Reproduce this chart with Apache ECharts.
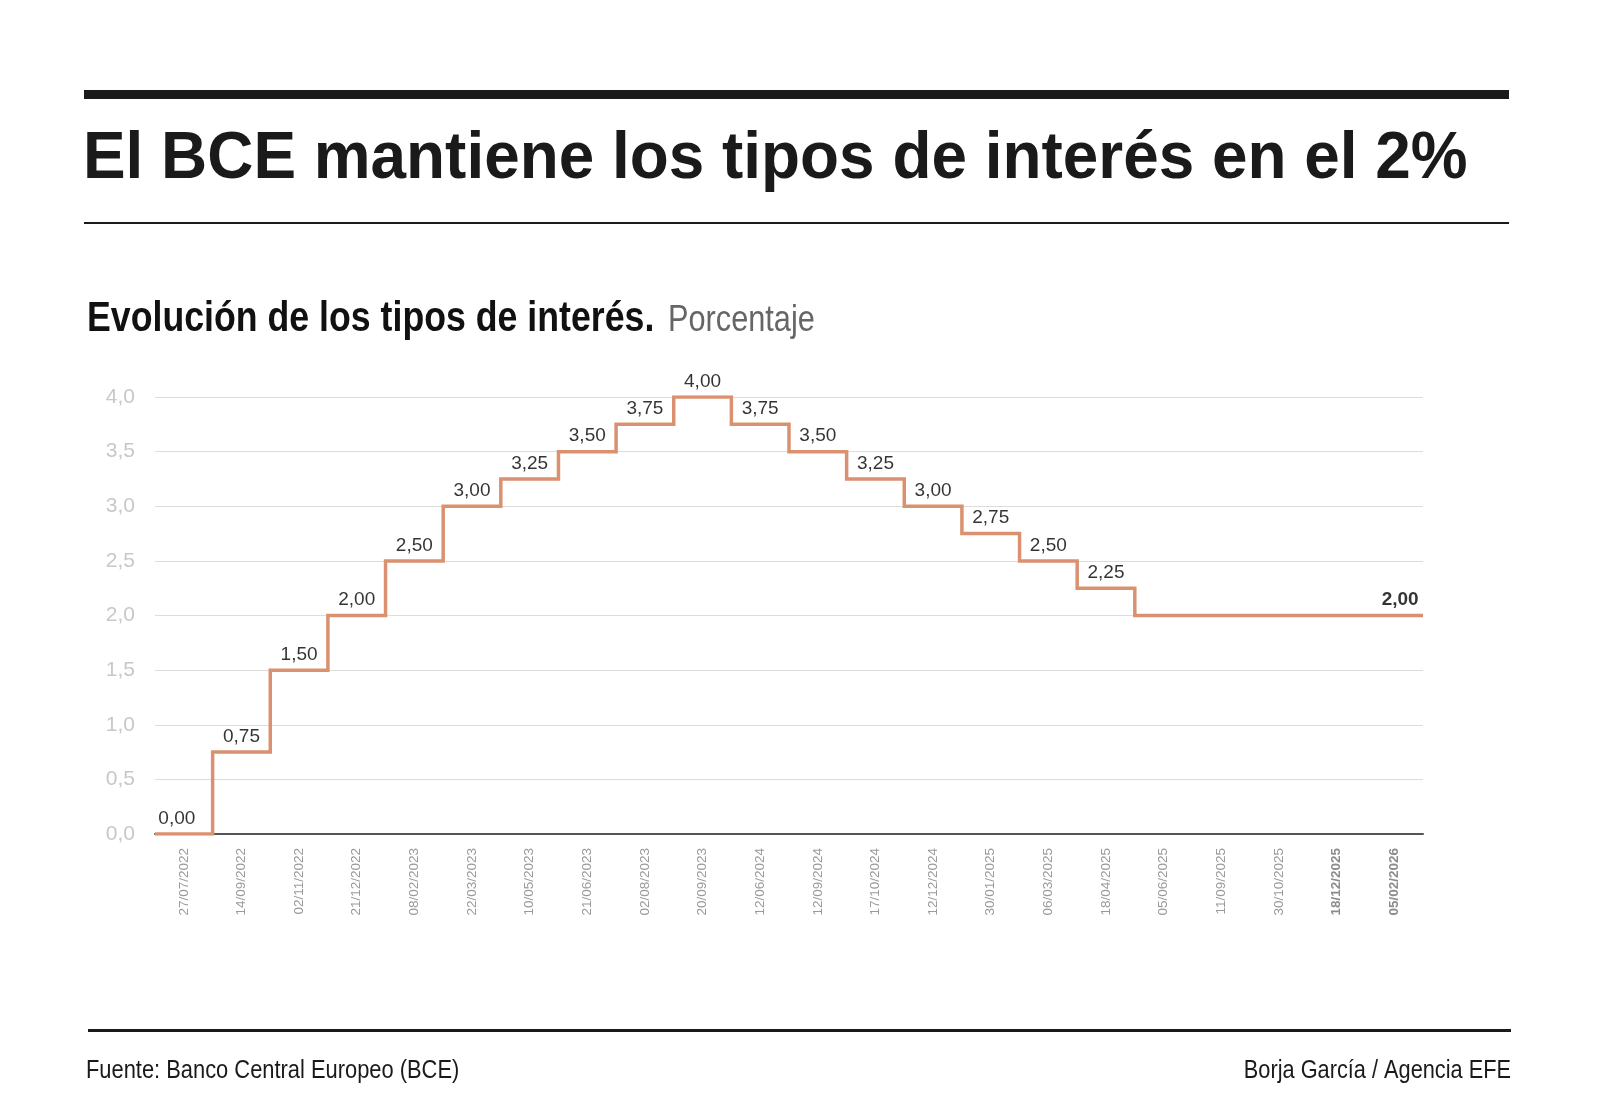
<!DOCTYPE html>
<html>
<head>
<meta charset="utf-8">
<script src="https://cdn.jsdelivr.net/npm/echarts@6/dist/echarts.min.js"></script>
<style>
html,body{margin:0;padding:0;background:#fff;}
#chart{width:1600px;height:1114px;}
</style>
</head>
<body>
<div id="chart"></div>
<script>
const dates = ['27/07/2022','14/09/2022','02/11/2022','21/12/2022','08/02/2023','22/03/2023','10/05/2023','21/06/2023','02/08/2023','20/09/2023','12/06/2024','12/09/2024','17/10/2024','12/12/2024','30/01/2025','06/03/2025','18/04/2025','05/06/2025','11/09/2025','30/10/2025','18/12/2025','05/02/2026'];
const rates = [0, 0.75, 1.5, 2, 2.5, 3, 3.25, 3.5, 3.75, 4, 3.75, 3.5, 3.25, 3, 2.75, 2.5, 2.25, 2, 2, 2, 2, 2];
const labelled = [true,true,true,true,true,true,true,true,true,true,true,true,true,true,true,true,true,false,false,false,false,true];
const yTicks = [0, 0.5, 1, 1.5, 2, 2.5, 3, 3.5, 4];

const SANS = '"Liberation Sans",Arial,Helvetica,sans-serif';
const fmt = (v, d) => v.toFixed(d).replace('.', ',');

// step-line points at band edges (index i = left edge of band i)
const stepData = rates.map((v, i) => [i, v]);
stepData.push([rates.length, rates[rates.length - 1]]);

const labelData = rates.map((v, i) => {
  const last = i === rates.length - 1;
  return {
    value: v,
    label: {
      show: labelled[i],
      fontWeight: last ? 'bold' : 'normal',
      offset: last ? [6, 0] : (i === 0 ? [-7, 0] : [0, 0])
    }
  };
});

const chart = echarts.init(document.getElementById('chart'), null, {renderer: 'canvas'});
chart.setOption({
  backgroundColor: '#ffffff',
  animation: false,
  grid: {left: 155, right: 177, top: 397, bottom: 280, containLabel: false},
  xAxis: [{
    type: 'category',
    data: dates,
    boundaryGap: true,
    axisLine: {show: true, lineStyle: {color: '#555555', width: 2}},
    axisTick: {show: false},
    splitLine: {show: false},
    axisLabel: {
      rotate: 90,
      interval: 0,
      margin: 14,
      color: '#9a9a9a',
      fontSize: 13.5,
      fontFamily: SANS,
      formatter: (v, i) => i >= dates.length - 2 ? '{b|' + v + '}' : v,
      rich: {b: {fontWeight: 'bold', color: '#8c8c8c', fontSize: 13.5, fontFamily: SANS}}
    }
  }, {
    type: 'value',
    min: 0,
    max: dates.length,
    show: false
  }],
  yAxis: {
    type: 'value',
    min: yTicks[0],
    max: yTicks[yTicks.length - 1],
    interval: 0.5,
    axisLine: {show: false},
    axisTick: {show: false},
    splitLine: {show: true, lineStyle: {color: '#dcdcdc', width: 1}},
    axisLabel: {
      margin: 20,
      color: '#c8c8c8',
      fontSize: 21,
      fontFamily: SANS,
      formatter: v => fmt(v, 1)
    }
  },
  series: [{
    type: 'line',
    xAxisIndex: 1,
    step: 'end',
    data: stepData,
    symbol: 'none',
    lineStyle: {color: '#da9170', width: 3.5, join: 'miter', cap: 'butt'},
    z: 3
  }, {
    type: 'scatter',
    xAxisIndex: 0,
    data: labelData,
    symbolSize: 0,
    silent: true,
    label: {
      show: true,
      position: 'top',
      distance: 6,
      color: '#000000',
      fontSize: 19,
      fontFamily: SANS,
      formatter: p => fmt(p.value, 2)
    },
    z: 4
  }],
  graphic: [
    {type: 'rect', shape: {x: 84, y: 90, width: 1425, height: 9}, style: {fill: '#1a1a1a'}},
    {type: 'text', x: 83, y: 160, scaleX: 0.968, style: {text: 'El BCE mantiene los tipos de interés en el 2%', font: 'bold 66px ' + SANS, fill: '#1a1a1a', textVerticalAlign: 'middle'}},
    {type: 'rect', shape: {x: 84, y: 222, width: 1425, height: 2}, style: {fill: '#1a1a1a'}},
    {type: 'text', x: 87, y: 319, scaleX: 0.85, style: {text: 'Evolución de los tipos de interés.', font: 'bold 42px ' + SANS, fill: '#111111', textVerticalAlign: 'middle'}},
    {type: 'text', x: 668, y: 321, scaleX: 0.83, style: {text: 'Porcentaje', font: '37px ' + SANS, fill: '#666666', textVerticalAlign: 'middle'}},
    {type: 'rect', shape: {x: 88, y: 1029, width: 1423, height: 3}, style: {fill: '#1a1a1a'}},
    {type: 'text', x: 86, y: 1071, scaleX: 0.875, style: {text: 'Fuente: Banco Central Europeo (BCE)', font: '25px ' + SANS, fill: '#1a1a1a', textVerticalAlign: 'middle'}},
    {type: 'text', x: 1511, y: 1071, scaleX: 0.87, originX: 0, style: {text: 'Borja García / Agencia EFE', font: '25px ' + SANS, fill: '#1a1a1a', textAlign: 'right', textVerticalAlign: 'middle'}}
  ]
});
</script>
</body>
</html>
